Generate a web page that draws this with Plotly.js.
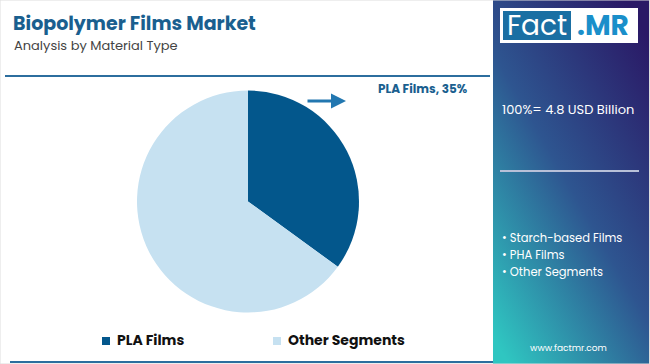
<!DOCTYPE html>
<html><head><meta charset="utf-8">
<script src="https://cdn.plot.ly/plotly-3.0.1.min.js"></script>
<style>html,body{margin:0;padding:0;background:#fff;}#chart{width:650px;height:364px;}</style>
</head><body><div id="chart"></div>
<script>
const categories = ["PLA Films", "Other Segments"];
const shares = [35, 65];
const sliceColors = ["#03578c", "#c6e1f1"];
const otherList = ["Starch-based Films", "PHA Films", "Other Segments"];
const marketTotal = "100%= 4.8 USD Billion";
const titleText = "Biopolymer Films Market";
const subtitleText = "Analysis by Material Type";

const W = 650, H = 364;
const px = x => x / W, py = y => 1 - y / H;
const FONT = "Poppins, Inter, 'Open Sans', sans-serif";

const grad = 'data:image/svg+xml;utf8,' + encodeURIComponent(
 '<svg xmlns="http://www.w3.org/2000/svg" width="157" height="364" preserveAspectRatio="none">' +
 '<defs><linearGradient id="g" x1="0.85" y1="0" x2="0.1" y2="1">' +
 '<stop offset="0" stop-color="#2a1966"/><stop offset="0.5" stop-color="#2e5590"/><stop offset="1" stop-color="#2fc6c1"/>' +
 '</linearGradient></defs><rect width="157" height="364" fill="url(#g)"/></svg>');

const trace = {
  type: "pie", labels: categories, values: shares, sort: false,
  direction: "clockwise", rotation: 0,
  marker: {colors: sliceColors, line: {width: 0}},
  textinfo: "none", hoverinfo: "label+percent",
  domain: {x: [px(137), px(359)], y: [py(312.5), py(90.5)]}
};

const annotations = [
  {text: "<b>" + titleText + "</b>", x: px(11), y: py(23), xanchor: "left", yanchor: "middle", showarrow: false, font: {family: FONT, size: 19, color: "#1a5f8f"}},
  {text: subtitleText, x: px(12), y: py(45), xanchor: "left", yanchor: "middle", showarrow: false, font: {family: FONT, size: 13, color: "#444"}},
  {text: "<b>" + categories[0] + ", " + shares[0] + "%</b>", x: px(423), y: py(88), xanchor: "center", yanchor: "middle", showarrow: false, font: {family: FONT, size: 12, color: "#1a5f8f"}},
  {text: "", x: px(346), y: py(101), ax: px(306), ay: py(101), axref: "paper", ayref: "paper", xref: "paper", yref: "paper", showarrow: true, arrowhead: 2, arrowsize: 1, arrowwidth: 3, arrowcolor: "#2277b0"},
  {text: marketTotal, x: px(568), y: py(109), xanchor: "center", yanchor: "middle", showarrow: false, font: {family: FONT, size: 13, color: "#fff"}},
  {text: "www.factmr.com", x: px(568), y: py(348), xanchor: "center", yanchor: "middle", showarrow: false, font: {family: FONT, size: 9, color: "#fff"}},
  {text: "Fact", x: px(537), y: py(26), xanchor: "center", yanchor: "middle", showarrow: false, font: {family: FONT, size: 28, color: "#fff"}},
  {text: "<b>.MR</b>", x: px(603), y: py(26), xanchor: "center", yanchor: "middle", showarrow: false, font: {family: FONT, size: 28, color: "#1a8fca"}}
];
otherList.forEach((t, i) => annotations.push({text: "• " + t, x: px(500), y: py(238 + i * 17), xanchor: "left", yanchor: "middle", showarrow: false, font: {family: FONT, size: 11.5, color: "#fff"}}));

const shapes = [
  {type: "rect", xref: "paper", yref: "paper", x0: 0, x1: px(649.5), y0: 0, y1: 1, line: {color: "#ddd", width: 1}, layer: "below"},
  {type: "line", xref: "paper", yref: "paper", x0: px(5), x1: px(490), y0: py(76), y1: py(76), line: {color: "#2c6e9e", width: 2}},
  {type: "line", xref: "paper", yref: "paper", x0: px(10), x1: px(493), y0: py(362), y1: py(362), line: {color: "#2c6e9e", width: 2}},
  {type: "line", xref: "paper", yref: "paper", x0: px(500), x1: px(639), y0: py(171), y1: py(171), line: {color: "#b8c0d8", width: 2}},
  {type: "rect", xref: "paper", yref: "paper", x0: px(500), x1: px(638), y0: py(43), y1: py(8), fillcolor: "#fff", line: {width: 0}},
  {type: "rect", xref: "paper", yref: "paper", x0: px(503), x1: px(571), y0: py(40), y1: py(11), fillcolor: "#1a6fa3", line: {width: 0}}
];

// custom legend
const legendX = [102, 273];
categories.forEach((c, i) => {
  shapes.push({type: "rect", xref: "paper", yref: "paper", x0: px(legendX[i]), x1: px(legendX[i] + 8), y0: py(345), y1: py(337), fillcolor: sliceColors[i], line: {width: 0}});
  annotations.push({text: "<b>" + c + "</b>", x: px(legendX[i] + 13), y: py(340), xanchor: "left", yanchor: "middle", showarrow: false, font: {family: FONT, size: 14, color: "#111"}});
});

const layout = {
  width: W, height: H, margin: {l: 0, r: 0, t: 0, b: 0},
  paper_bgcolor: "#fff", showlegend: false,
  images: [{source: grad, xref: "paper", yref: "paper", x: px(493), y: 1, sizex: px(157), sizey: 1, sizing: "stretch", xanchor: "left", yanchor: "top", layer: "below"}],
  annotations, shapes
};
Plotly.newPlot("chart", [trace], layout, {displayModeBar: false, staticPlot: true});
</script></body></html>
